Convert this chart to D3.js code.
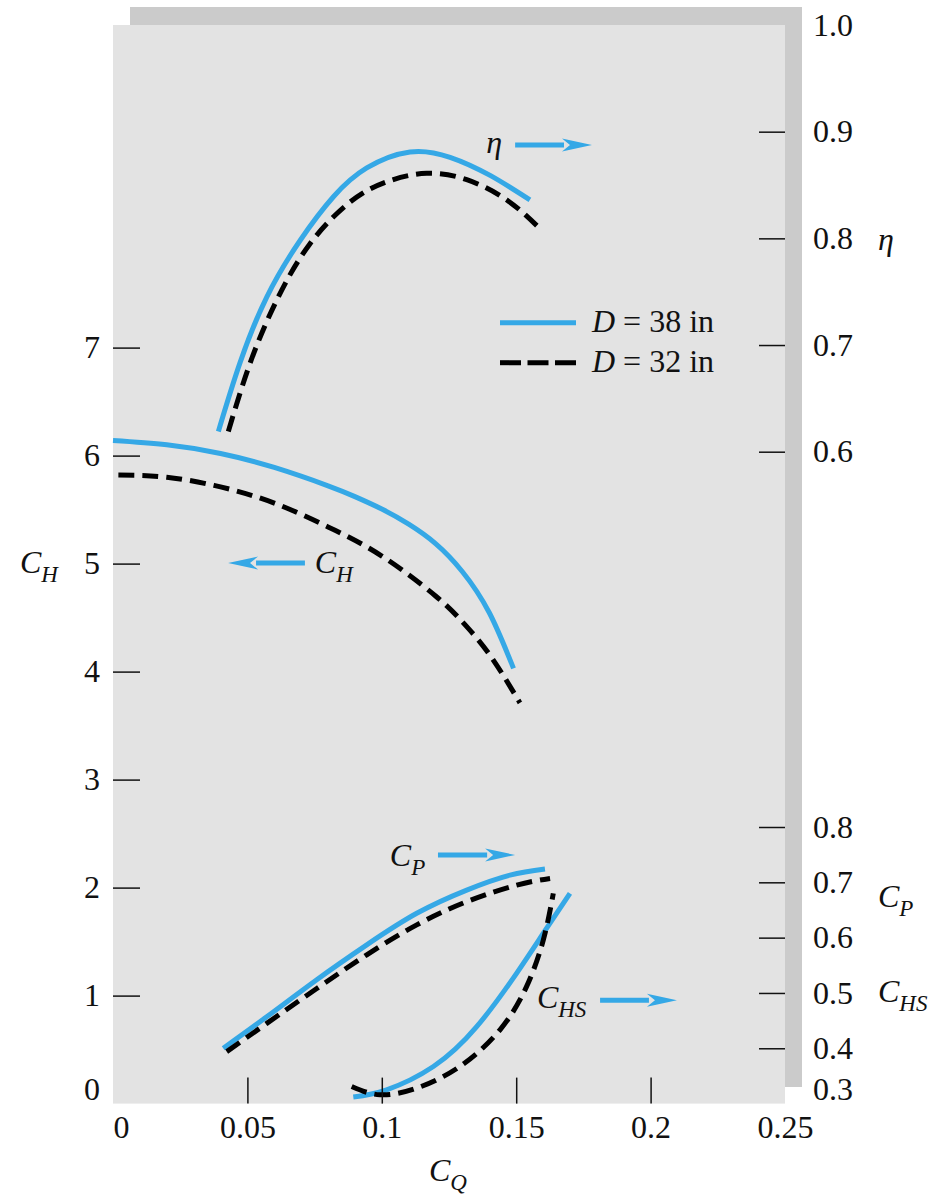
<!DOCTYPE html>
<html><head><meta charset="utf-8">
<script src="https://cdn.jsdelivr.net/npm/d3@7"></script>
<style>
html,body{margin:0;padding:0;background:#fff;}
svg{display:block;}
text{font-family:"Liberation Serif","Times New Roman",serif;fill:#111;}
</style></head>
<body>
<svg id="chart" width="933" height="1198"></svg>
<script>
// ---- Data ----
const xTicks = [0, 0.05, 0.1, 0.15, 0.2, 0.25];
const xTickLabels = ["0", "0.05", "0.1", "0.15", "0.2", "0.25"];
const chTicks = [0, 1, 2, 3, 4, 5, 6, 7];
const etaTicks = [0.6, 0.7, 0.8, 0.9, 1.0];
const cpTicks = [0.3, 0.4, 0.5, 0.6, 0.7, 0.8];

// C_H (left axis)
const chQ38 = [0, 0.02, 0.04, 0.06, 0.08, 0.09, 0.10, 0.11, 0.12, 0.13, 0.14, 0.149];
const ch38  = [6.14, 6.10, 6.02, 5.89, 5.72, 5.62, 5.505, 5.365, 5.185, 4.925, 4.545, 4.03];
const chQ32 = [0.002, 0.02, 0.04, 0.06, 0.08, 0.10, 0.12, 0.13, 0.14, 0.1514];
const ch32  = [5.82, 5.80, 5.71, 5.56, 5.34, 5.07, 4.70, 4.46, 4.16, 3.71];

// eta (right upper axis)
const etaQ38 = [0.0392, 0.0472, 0.0572, 0.0696, 0.082, 0.0944, 0.1105, 0.1254, 0.1403, 0.1551];
const eta38  = [0.619, 0.683, 0.745, 0.798, 0.839, 0.866, 0.881, 0.876, 0.859, 0.836];
const etaQ32 = [0.0429, 0.051, 0.0609, 0.0733, 0.0882, 0.1018, 0.1167, 0.1316, 0.1465, 0.1589];
const eta32  = [0.619, 0.683, 0.742, 0.795, 0.834, 0.853, 0.861, 0.855, 0.836, 0.809];

// C_P (right lower axis)
const cpQ38 = [0.041, 0.0572, 0.0758, 0.0944, 0.113, 0.1316, 0.1477, 0.1607];
const cp38  = [0.400, 0.457, 0.524, 0.587, 0.644, 0.686, 0.713, 0.724];
const cpQ32 = [0.0423, 0.0572, 0.0758, 0.0944, 0.113, 0.1316, 0.1502, 0.1626];
const cp32  = [0.394, 0.445, 0.508, 0.569, 0.623, 0.665, 0.695, 0.707];

// C_HS (right lower axis)
const chsQ38 = [0.0894, 0.1018, 0.1192, 0.1353, 0.1502, 0.1601, 0.17];
const chs38  = [0.312, 0.325, 0.367, 0.439, 0.536, 0.608, 0.680];
const chsQ32 = [0.0888, 0.0993, 0.113, 0.129, 0.1439, 0.1538, 0.1601, 0.1638];
const chs32  = [0.331, 0.316, 0.328, 0.367, 0.433, 0.511, 0.596, 0.680];

const seriesLabels = ["D = 38 in", "D = 32 in"];

// ---- Layout ----
const BLUE = "#35a8e6";
const svg = d3.select("#chart");
const L = 113, R = 785, T = 25, B = 1103.6;
const FS = 32;

const x = d3.scaleLinear().domain([0, 0.25]).range([L, R]);
const yH = d3.scaleLinear().domain([0, 10]).range([B, B - 1080]);
const yEta = d3.scaleLinear().domain([0.6, 1.0]).range([451.7, 25]);
const yP = d3.scaleLinear().domain([0.3, 0.8]).range([B, 827]);

// shadow + plot area
svg.append("rect").attr("x", 130).attr("y", 7).attr("width", 802 - 130).attr("height", 18).attr("fill", "#cbcbcb");
svg.append("rect").attr("x", R).attr("y", 7).attr("width", 17).attr("height", 1087 - 7).attr("fill", "#cbcbcb");
svg.append("rect").attr("x", L).attr("y", T).attr("width", R - L).attr("height", B - T).attr("fill", "#e3e3e3");

// curves
function drawCurve(qs, vs, yScale, dashed) {
  const pts = qs.map((q, i) => [q, vs[i]]);
  const line = d3.line().x(d => x(d[0])).y(d => yScale(d[1])).curve(d3.curveNatural);
  svg.append("path").attr("d", line(pts)).attr("fill", "none")
    .attr("stroke", dashed ? "#000" : BLUE)
    .attr("stroke-width", 5)
    .attr("stroke-dasharray", dashed ? "16,8" : null);
}
drawCurve(chQ38, ch38, yH, false);
drawCurve(chQ32, ch32, yH, true);
drawCurve(etaQ38, eta38, yEta, false);
drawCurve(etaQ32, eta32, yEta, true);
drawCurve(cpQ38, cp38, yP, false);
drawCurve(cpQ32, cp32, yP, true);
drawCurve(chsQ38, chs38, yP, false);
drawCurve(chsQ32, chs32, yP, true);

// axes
function styleAxis(g) {
  g.select(".domain").remove();
  g.selectAll(".tick line").attr("stroke", "#111").attr("stroke-width", 1.5);
  g.selectAll(".tick text").attr("font-size", FS).attr("fill", "#111")
    .attr("font-family", '"Liberation Serif","Times New Roman",serif');
}

const gx = svg.append("g").attr("transform", `translate(0,${B})`)
  .call(d3.axisBottom(x).tickValues(xTicks).tickSize(-26).tickPadding(12)
    .tickFormat((d, i) => xTickLabels[i]));
styleAxis(gx);
gx.selectAll(".tick").filter(d => d === 0 || d === 0.25).select("line").remove();
gx.selectAll(".tick").filter(d => d === 0).select("text").attr("text-anchor", "start");

const gl = svg.append("g").attr("transform", `translate(${L},0)`)
  .call(d3.axisLeft(yH).tickValues(chTicks).tickSize(-27).tickPadding(13).tickFormat(d3.format("d")));
styleAxis(gl);
gl.selectAll(".tick").filter(d => d === 0).select("line").remove();
gl.selectAll(".tick").filter(d => d === 0).select("text").attr("y", -14);

const gre = svg.append("g").attr("transform", `translate(${R},0)`)
  .call(d3.axisRight(yEta).tickValues(etaTicks).tickSize(-26).tickPadding(28).tickFormat(d3.format(".1f")));
styleAxis(gre);
gre.selectAll(".tick").filter(d => d === 1.0).select("line").remove();

const grp = svg.append("g").attr("transform", `translate(${R},0)`)
  .call(d3.axisRight(yP).tickValues(cpTicks).tickSize(-26).tickPadding(28).tickFormat(d3.format(".1f")));
styleAxis(grp);
grp.selectAll(".tick").filter(d => d === 0.3).select("line").remove();
grp.selectAll(".tick").filter(d => d === 0.3).select("text").attr("y", -14);

// labels with subscripts
function subLabel(px, py, main, sub, anchor) {
  const t = svg.append("text").attr("x", px).attr("y", py).attr("font-size", FS)
    .attr("text-anchor", anchor || "start");
  t.append("tspan").attr("font-style", "italic").text(main);
  if (sub) t.append("tspan").attr("font-style", "italic").attr("font-size", 23).attr("dy", 9).text(sub);
  return t;
}
subLabel(20, 573, "C", "H");
subLabel(429, 1181, "C", "Q");
subLabel(878, 250, "η", null);
subLabel(878, 907, "C", "P");
subLabel(878, 1002, "C", "HS");

// in-plot annotations
subLabel(x(0.0751), yH(5.005) + 10, "C", "H");
subLabel(x(0.1389), yEta(0.8875) + 8, "η", null);
subLabel(x(0.1030), yP(0.7495) + 11, "C", "P");
subLabel(x(0.1577), yP(0.487) + 8, "C", "HS");

function arrow(x0, x1, py) {
  const dir = Math.sign(x1 - x0);
  const headL = 30, headW = 6.5;
  svg.append("line").attr("x1", x0).attr("x2", x1 - dir * headL + dir * 2).attr("y1", py).attr("y2", py)
    .attr("stroke", BLUE).attr("stroke-width", 5);
  svg.append("path").attr("fill", BLUE)
    .attr("d", `M${x1},${py} L${x1 - dir * headL},${py - headW} L${x1 - dir * (headL - 8)},${py} L${x1 - dir * headL},${py + headW} Z`);
}
arrow(x(0.0714), x(0.0428), yH(5.005));
arrow(x(0.1496), x(0.1782), yEta(0.8875));
arrow(x(0.1209), x(0.1496), yP(0.7495));
arrow(x(0.1812), x(0.2098), yP(0.487));

// legend
const lg = svg.append("g");
[0, 1].forEach(i => {
  const ly = 322.7 + i * 40;
  lg.append("line").attr("x1", 500).attr("x2", 576).attr("y1", ly).attr("y2", ly)
    .attr("stroke", i === 0 ? BLUE : "#000").attr("stroke-width", 5)
    .attr("stroke-dasharray", i === 0 ? null : "21,6.5");
  const t = lg.append("text").attr("x", 592).attr("y", ly + 9).attr("font-size", FS);
  const parts = seriesLabels[i].split(" = ");
  t.append("tspan").attr("font-style", "italic").text(parts[0]);
  t.append("tspan").text(" = " + parts[1]);
});
</script>
</body></html>
